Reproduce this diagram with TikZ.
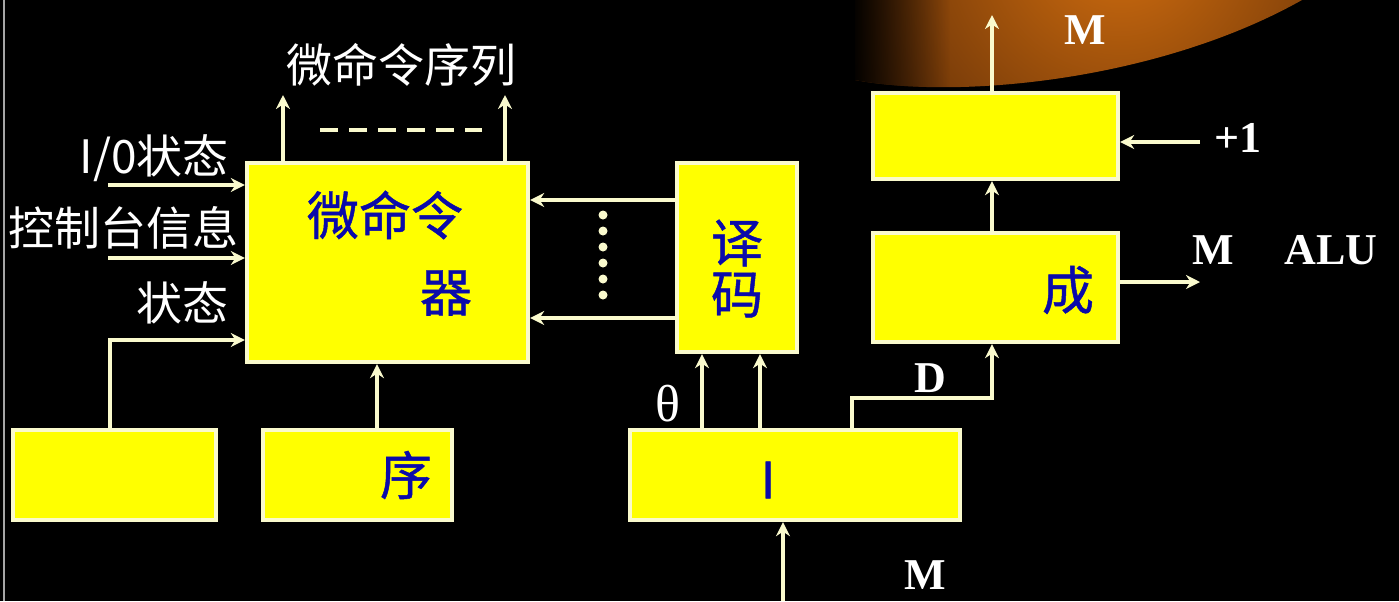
\documentclass[tikz,border=0pt]{standalone}
\usepackage{fontspec}
\setmainfont{Liberation Serif}
\newfontfamily\cjk{Noto Sans CJK SC}
\newfontfamily\cjkm[FakeBold=0.9]{Noto Sans CJK SC}
\usetikzlibrary{arrows.meta,fadings}
\definecolor{cream}{RGB}{250,250,205}
\definecolor{ybox}{RGB}{255,255,0}
\definecolor{navy}{RGB}{10,10,170}
\definecolor{orng}{RGB}{210,110,15}
\definecolor{brwn}{RGB}{50,20,4}
\tikzset{
  box/.style={draw=cream, line width=2.2pt, fill=ybox, inner sep=0pt},
  arr/.style={draw=cream, line width=1.8pt, -{Stealth[length=7pt,width=7pt]}},
  wire/.style={draw=cream, line width=1.8pt},
  wlab/.style={text=white, font=\cjk\fontsize{23pt}{26pt}\selectfont, inner sep=0pt},
  blab/.style={text=navy, font=\cjkm\fontsize{26pt}{30pt}\selectfont, inner sep=0pt},
  tlab/.style={text=white, font=\bfseries\fontsize{22pt}{26pt}\selectfont, inner sep=0pt},
}
\begin{document}
\begin{tikzpicture}[x=0.5pt,y=-0.5pt]
\fill[black] (0,0) rectangle (1399,601);
\useasboundingbox (0,0) rectangle (1399,601);
% orange blob
\begin{scope}
\clip (855,0) -- (855,80) .. controls (960,100) and (1160,80) .. (1302,0) -- cycle;
\shade[inner color=orng, outer color=brwn] (1120,-60) circle (420);
\fill[black, path fading=east] (850,0) rectangle (950,110);
\end{scope}
\draw[gray!70, line width=1pt] (4,0) -- (4,601);

% boxes
\node[box, minimum width=140.5pt, minimum height=99.5pt] (micro) at (387.5,262.5) {};
\node[box, minimum width=60pt, minimum height=94.5pt] (dec) at (737,257.5) {};
\node[box, minimum width=101.5pt, minimum height=45pt] (lbox) at (114.5,475) {};
\node[box, minimum width=94.5pt, minimum height=45pt] (seq) at (357.5,475) {};
\node[box, minimum width=165pt, minimum height=45pt] (ibox) at (795,475) {};
\node[box, minimum width=122.5pt, minimum height=43pt] (top) at (995.5,136) {};
\node[box, minimum width=122.5pt, minimum height=54.5pt] (cheng) at (995.5,287.5) {};

% box texts
\node[blab] (tmicro) at (385,215) {微命令};
\node[blab] (tqi) at (446,293) {器};
\node[blab] (tyi) at (737,243) {译};
\node[blab] (tma) at (737,295) {码};
\node[blab] (txu) at (406,475) {序};
\node[blab, font=\cjkm\fontsize{25pt}{30pt}\selectfont] (ti) at (768,480) {I};
\node[blab] (tcheng) at (1068,290) {成};

% labels
\node[wlab] (lseq) at (401,65) {微命令序列};
\node[wlab, anchor=east] (lio) at (229,158) {I/0状态};
\node[wlab] (lctl) at (124,228) {控制台信息};
\node[wlab, anchor=east] (lst) at (229,303) {状态};
\node[text=white, font=\fontsize{26pt}{28pt}\selectfont, inner sep=0pt] (ltheta) at (668,404) {θ};
\node[tlab] (ld) at (930,378) {D};
\node[tlab] (lmtop) at (1085,30) {M};
\node[tlab] (lplus) at (1238,138) {+1};
\node[tlab] (lm2) at (1213,250) {M};
\node[tlab] (lalu) at (1331,250) {ALU};
\node[tlab] (lmbot) at (925,575) {M};

% helper coordinates
\coordinate (in1) at (108,185);
\coordinate (in2) at (108,258);
\coordinate (c110) at (110,0);
\coordinate (y340) at (0,340);
\coordinate (c377) at (377,0);
\coordinate (o1) at (283,95);
\coordinate (o2) at (505,95);
\coordinate (y200) at (0,200);
\coordinate (y318) at (0,318);
\coordinate (c702) at (702,0);
\coordinate (c760) at (760,0);
\coordinate (c852) at (852,0);
\coordinate (dk1) at (852,398);
\coordinate (dk2) at (992,398);
\coordinate (c992) at (992,0);
\coordinate (mout) at (992,15);
\coordinate (p1) at (1200,142);
\coordinate (alu) at (1200,282);
\coordinate (mbot) at (783,601);

% connectors
\draw[arr] (in1) -- (in1 -| micro.west);
\draw[arr] (in2) -- (in2 -| micro.west);
\draw[arr] (lbox.north -| c110) |- (micro.west |- y340);
\draw[arr] (seq.north -| c377) -- (micro.south -| c377);
\draw[arr] (micro.north -| o1) -- (o1);
\draw[arr] (micro.north -| o2) -- (o2);
\draw[wire, dash pattern=on 9pt off 5.5pt] (320,130) -- (482,130);
\draw[arr] (dec.west |- y200) -- (micro.east |- y200);
\draw[arr] (dec.west |- y318) -- (micro.east |- y318);
\foreach \yy in {215,231,247,263,279,295} \fill[cream] (603,\yy) circle (4.5);
\draw[arr] (ibox.north -| c702) -- (dec.south -| c702);
\draw[arr] (ibox.north -| c760) -- (dec.south -| c760);
\draw[arr] (ibox.north -| c852) -- (dk1) -- (dk2) -- (cheng.south -| c992);
\draw[arr] (cheng.north -| c992) -- (top.south -| c992);
\draw[arr] (top.north -| c992) -- (mout);
\draw[arr] (p1) -- (p1 -| top.east);
\draw[arr] (cheng.east |- alu) -- (alu);
\draw[arr] (mbot) -- (ibox.south -| mbot);
\end{tikzpicture}
\end{document}
